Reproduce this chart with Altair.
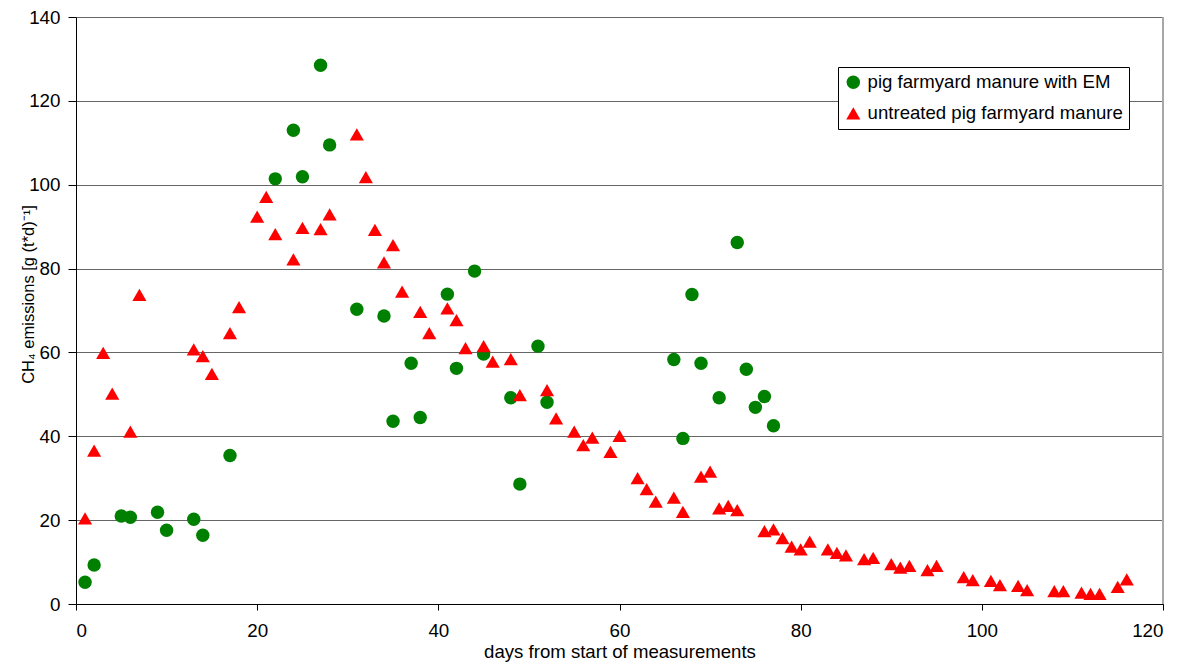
import altair as alt
import pandas as pd

em_days = [1, 2, 5, 6, 9, 10, 13, 14, 17, 22, 24, 25, 27, 28, 31, 34, 35, 37, 38, 41,
           42, 44, 45, 48, 49, 51, 52, 66, 67, 68, 69, 71, 73, 74, 75, 76, 77]
em_vals = [5.2, 9.3, 21.0, 20.7, 21.9, 17.6, 20.2, 16.4, 35.4, 101.4, 113.0, 101.9, 128.5, 109.5,
           70.3, 68.7, 43.6, 57.4, 44.5, 73.9, 56.2, 79.4, 59.6, 49.2, 28.6, 61.5, 48.1,
           58.3, 39.5, 73.8, 57.4, 49.2, 86.2, 56.0, 46.9, 49.5, 42.5]

un_days = [1, 2, 3, 4, 6, 7, 13, 14, 15, 17, 18, 20, 21, 22, 24, 25, 27, 28, 31, 32, 33, 34,
           35, 36, 38, 39, 41, 42, 43, 45, 46, 48, 49, 52, 53, 55, 56, 57, 59, 60, 62, 63,
           64, 66, 67, 69, 70, 71, 72, 73, 76, 77, 78, 79, 80, 81, 83, 84, 85, 87, 88, 90,
           91, 92, 94, 95, 98, 99, 101, 102, 104, 105, 108, 109, 111, 112, 113, 115, 116]
un_vals = [20.4, 36.6, 59.9, 50.2, 41.1, 73.7, 60.7, 59.1, 54.9, 64.6, 70.8, 92.4, 97.1, 88.2,
           82.2, 89.7, 89.4, 92.9, 112.0, 101.8, 89.2, 81.5, 85.6, 74.5, 69.7, 64.6, 70.5,
           67.7, 61.0, 61.5, 57.8, 58.4, 49.8, 51.0, 44.3, 41.1, 37.9, 39.7, 36.3, 40.1,
           30.0, 27.4, 24.4, 25.4, 22.0, 30.4, 31.6, 22.8, 23.4, 22.4, 17.4, 17.8, 15.7,
           13.7, 13.0, 14.9, 13.0, 12.2, 11.6, 10.7, 11.0, 9.5, 8.7, 9.1, 8.1, 9.1, 6.4,
           5.7, 5.5, 4.5, 4.3, 3.3, 3.1, 3.1, 2.7, 2.4, 2.4, 4.1, 5.9]

series_names = ["pig farmyard manure with EM", "untreated pig farmyard manure"]
series_colors = ["#008000", "#FF0000"]
series_shapes = ["circle", "triangle-up"]
x_ticks = [0, 20, 40, 60, 80, 100, 120]
y_ticks = [0, 20, 40, 60, 80, 100, 120, 140]

df = pd.DataFrame(
    {"day": em_days + un_days,
     "value": em_vals + un_vals,
     "series": [series_names[0]] * len(em_days) + [series_names[1]] * len(un_days)}
)

FONT = "Liberation Sans"
W, H = 1087, 587

points = alt.Chart(df).mark_point(filled=True, opacity=1).encode(
    x=alt.X("day:Q",
            scale=alt.Scale(domain=[0, 120], nice=False, zero=True),
            axis=alt.Axis(values=x_ticks, grid=False,
                          title="days from start of measurements",
                          titleFontWeight="normal", titleFontSize=18.6,
                          titleY=38, titleBaseline="top",
                          labelFontSize=18.8, labelPadding=11, tickSize=6,
                          tickColor="#000000", domainColor="#000000",
                          labelColor="#000000", titleColor="#000000")),
    y=alt.Y("value:Q",
            scale=alt.Scale(domain=[0, 140], nice=False),
            axis=alt.Axis(values=y_ticks, grid=True,
                          gridColor="#666666", gridWidth=1,
                          title="CH\u2084 emissions [g (t*d)\u207b\u00b9]",
                          titleFontWeight="normal", titleFontSize=16.5,
                          titleX=-40, titleY=277,
                          labelFontSize=18.8, labelPadding=8, tickSize=8,
                          tickColor="#000000", domainColor="#000000",
                          labelColor="#000000", titleColor="#000000")),
    color=alt.Color("series:N",
                    scale=alt.Scale(domain=series_names, range=series_colors),
                    legend=alt.Legend(title=None, orient="none", legendX=762, legendY=50,
                                      strokeColor="#000000", fillColor="#ffffff",
                                      padding=6, labelFontSize=18.6, symbolSize=180,
                                      rowPadding=11, labelOffset=5,
                                      labelColor="#000000",
                                      labelLimit=400, symbolOpacity=1)),
    shape=alt.Shape("series:N",
                    scale=alt.Scale(domain=series_names, range=series_shapes)),
    size=alt.Size("series:N",
                  scale=alt.Scale(domain=series_names, range=[180, 200]),
                  legend=None),
)

right_border = alt.Chart(pd.DataFrame({"x": [120]})).mark_rule(
    color="#a8a8a8", strokeWidth=2
).encode(x="x:Q", y=alt.value(0), y2=alt.value(H))

chart = alt.layer(points, right_border).properties(
    width=W, height=H,
    autosize=alt.AutoSizeParams(type="none"),
    padding={"left": 68, "top": 9, "right": 18, "bottom": 58},
).configure_view(stroke=None).configure(font=FONT)

chart.save("out.html", embed_options={"renderer": "svg", "actions": False})
